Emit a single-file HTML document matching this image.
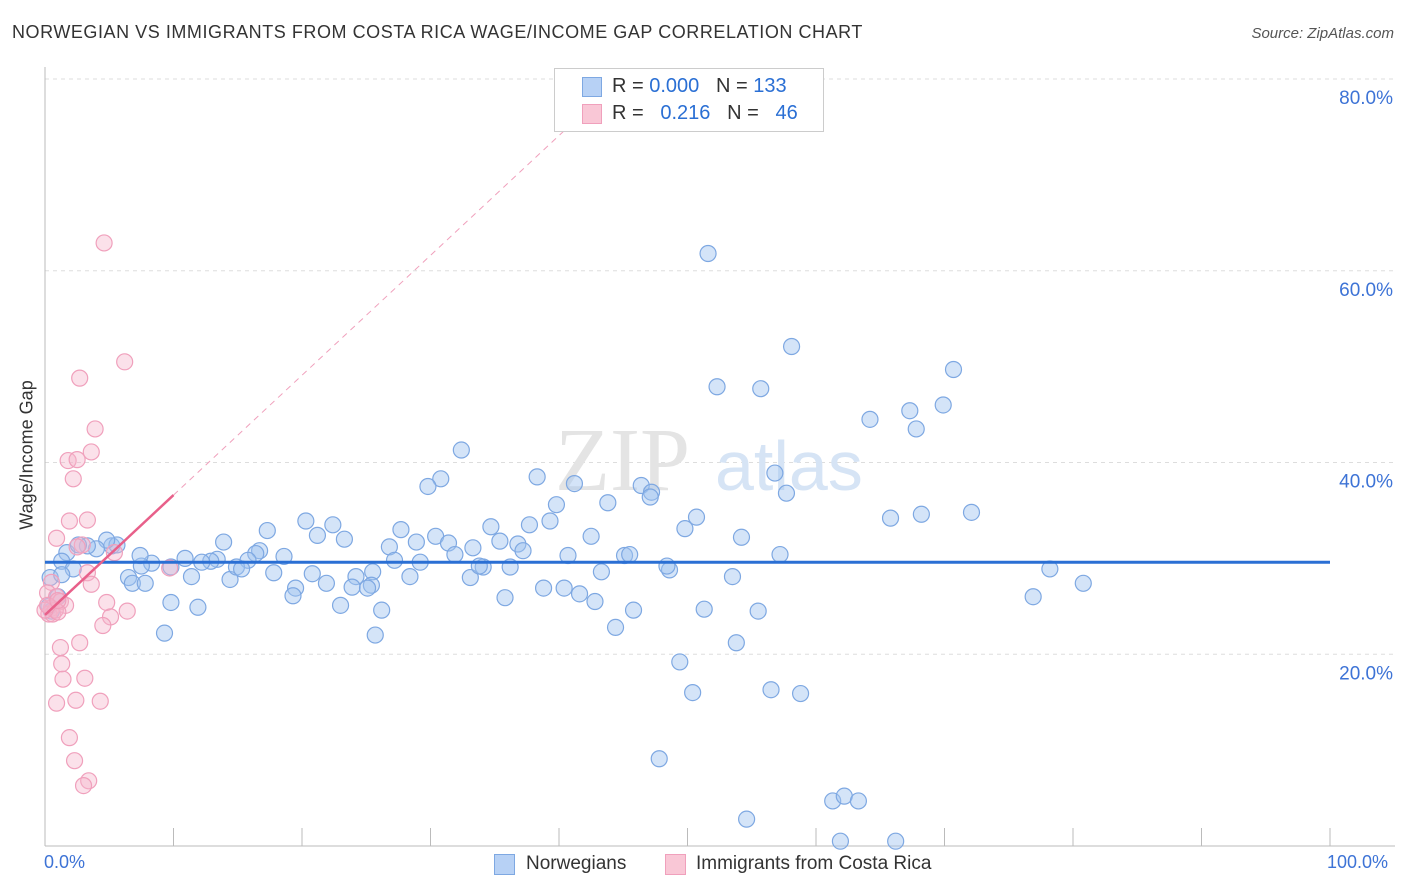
<!DOCTYPE html>
<html><head><meta charset="utf-8">
<style>
body{margin:0;background:#fff;font-family:"Liberation Sans",sans-serif;}
#wrap{position:relative;width:1406px;height:892px;overflow:hidden;}
.t{position:absolute;white-space:nowrap;}
</style></head>
<body>
<div id="wrap">
<div class="t" style="left:12px;top:22px;font-size:18px;letter-spacing:0.55px;color:#333;">NORWEGIAN VS IMMIGRANTS FROM COSTA RICA WAGE/INCOME GAP CORRELATION CHART</div>
<div class="t" style="right:12px;top:25px;font-size:15px;color:#555;font-style:italic;">Source: ZipAtlas.com</div>
<svg id="svg" width="1406" height="892" style="position:absolute;left:0;top:0"></svg>
</div>
<script>
const blueX=[51.6,58.1,70.7,52.3,55.7,69.9,67.3,64.2,67.8,32.4,30.8,29.8,38.3,41.2,56.8,57.7,46.4,47.2,47.1,43.8,39.8,65.8,68.2,72.1,50.7,49.8,39.3,37.7,34.7,20.3,22.4,17.3,13.9,21.2,23.3,27.7,30.4,26.8,28.9,31.4,33.3,35.4,36.8,37.2,42.5,54.2,40.7,45.1,45.5,57.2,31.9,27.2,29.2,16.7,16.4,18.6,15.8,13.4,12.9,12.2,10.9,8.3,7.5,7.4,5.2,5.6,4.8,4.0,3.3,1.7,1.3,2.2,2.6,0.4,1.3,6.5,6.8,7.8,9.8,11.4,14.4,14.9,15.3,17.8,20.8,19.5,19.3,21.9,24.2,25.5,25.4,23.9,25.1,28.4,33.1,34.1,33.8,36.2,38.8,43.3,48.6,48.4,53.5,40.4,41.6,42.8,35.8,26.2,23.0,9.8,11.9,45.8,44.4,51.3,55.5,25.7,9.3,53.8,49.4,50.4,56.5,58.8,47.8,61.3,62.2,63.3,54.6,61.9,66.2,76.9,80.8,78.2,0.5,1.0,0.3];
const blueY=[61.8,52.1,49.7,47.9,47.7,46.0,45.4,44.5,43.5,41.3,38.3,37.5,38.5,37.8,38.9,36.8,37.6,36.9,36.4,35.8,35.6,34.2,34.6,34.8,34.3,33.1,33.9,33.5,33.3,33.9,33.5,32.9,31.7,32.4,32.0,33.0,32.3,31.2,31.7,31.6,31.1,31.8,31.5,30.8,32.3,32.2,30.3,30.3,30.4,30.4,30.4,29.8,29.6,30.8,30.5,30.2,29.8,29.9,29.7,29.6,30.0,29.5,29.2,30.3,31.3,31.4,31.9,31.0,31.3,30.6,29.7,28.9,31.4,28.0,28.3,28.0,27.4,27.4,29.1,28.1,27.8,29.1,28.9,28.5,28.4,26.9,26.1,27.4,28.1,28.6,27.2,27.0,26.9,28.1,28.0,29.1,29.2,29.1,26.9,28.6,28.8,29.2,28.1,26.9,26.3,25.5,25.9,24.6,25.1,25.4,24.9,24.6,22.8,24.7,24.5,22.0,22.2,21.2,19.2,16.0,16.3,15.9,9.1,4.7,5.2,4.7,2.8,0.5,0.5,26.0,27.4,28.9,24.5,26.0,25.0];
const pinkX=[4.6,6.2,2.7,3.9,3.6,1.8,2.5,2.2,1.9,3.3,0.9,2.9,2.5,5.4,9.7,3.3,3.6,0.5,0.2,0.9,1.2,0.5,0.3,0.6,1.6,4.8,6.4,5.1,4.5,2.7,1.2,1.3,1.4,3.1,0.9,2.4,4.3,1.9,2.3,3.4,3.0,0.8,1.0,0.0,0.2,1.0];
const pinkY=[62.9,50.5,48.8,43.5,41.1,40.2,40.3,38.3,33.9,34.0,32.1,31.4,31.2,30.6,29.0,28.5,27.3,27.5,26.4,26.0,25.5,24.8,24.2,24.2,25.1,25.4,24.5,23.9,23.0,21.2,20.7,19.0,17.4,17.5,14.9,15.2,15.1,11.3,8.9,6.8,6.3,24.6,24.4,24.6,25.1,25.6];
const yTicks=[20,40,60,80];
const yTickLabels=["20.0%","40.0%","60.0%","80.0%"];
const blueFit=[29.6,29.6];
const pinkFit=[24.1,36.6];

const X0=45,X1=1330,Y0=846,Y80=79;
const sx=v=>X0+(X1-X0)*v/100;
const sy=v=>Y0-(Y0-Y80)*v/80;
const svg=document.getElementById('svg');
const NS='http://www.w3.org/2000/svg';
function mk(tag,attrs){const e=document.createElementNS(NS,tag);for(const k in attrs)e.setAttribute(k,attrs[k]);svg.appendChild(e);return e;}

yTicks.forEach((t,i)=>{
  const g=mk('line',{x1:X0,x2:1395,y1:sy(t),y2:sy(t),stroke:'#ddd','stroke-dasharray':'4,4'});
  
  
  const tx=mk('text',{x:1393,y:sy(t)+25,'text-anchor':'end','font-size':19,fill:'#3d73d6','font-family':'Liberation Sans, sans-serif'});
  tx.textContent=yTickLabels[i];
  
  
});
const ya=mk('line',{x1:X0,x2:X0,y1:67,y2:Y0,stroke:'#bbb'});


const xa=mk('line',{x1:X0,x2:1395,y1:Y0,y2:Y0,stroke:'#bbb'});


for(let i=1;i<=10;i++){
  const tk=mk('line',{x1:sx(i*10),x2:sx(i*10),y1:Y0,y2:Y0-18,stroke:'#bbb'});
  
  
}
const wm=mk('text',{x:555,y:490,'font-size':90,fill:'#e4e4e4','font-family':'Liberation Serif, serif'});
wm.textContent='ZIP';


const wm2=mk('text',{x:715,y:490,'font-size':70,fill:'#d6e4f5','font-family':'Liberation Sans, sans-serif'});
wm2.textContent='atlas';



blueX.forEach((x,i)=>{
  const c=mk('circle',{cx:sx(x),cy:sy(blueY[i]),r:8,fill:'rgba(160,196,240,0.45)',stroke:'#7ea8e2','stroke-width':1.2});
  
  
});
pinkX.forEach((x,i)=>{
  const c=mk('circle',{cx:sx(x),cy:sy(pinkY[i]),r:8,fill:'rgba(246,180,202,0.4)',stroke:'#f0a0bc','stroke-width':1.2});
  
  
});
const bl=mk('line',{x1:sx(0),x2:sx(100),y1:sy(blueFit[0]),y2:sy(blueFit[1]),stroke:'#2a6fd4','stroke-width':3});


const slope=(pinkFit[1]-pinkFit[0])/10;
const xe=(80-pinkFit[0])/slope;
const pd=mk('line',{x1:sx(10),x2:sx(xe),y1:sy(pinkFit[1]),y2:sy(pinkFit[0]+slope*xe),stroke:'#f0a0bc','stroke-width':1,'stroke-dasharray':'6,5'});


const pl=mk('line',{x1:sx(0),x2:sx(10),y1:sy(pinkFit[0]),y2:sy(pinkFit[1]),stroke:'#e8608a','stroke-width':2.5});


</script>
<div class="t" style="left:27px;top:455px;transform:translate(-50%,-50%) rotate(-90deg);font-size:18px;color:#333;">Wage/Income Gap</div>
<div class="t" style="left:44px;top:852px;font-size:18px;color:#3d73d6;">0.0%</div>
<div class="t" style="left:1327px;top:852px;font-size:18px;color:#3d73d6;">100.0%</div>
<div style="position:absolute;left:554px;top:68px;width:268px;height:62px;background:#fff;border:1px solid #ccc;font-size:20px;color:#333;">
  <div style="position:absolute;left:27px;top:8px;width:18px;height:18px;background:#b7d1f5;border:1px solid #7ea8e2;"></div>
  <div class="t" style="left:57px;top:6px;">R = <span style="color:#2a6fd4">0.000</span>&nbsp;&nbsp;&nbsp;N = <span style="color:#2a6fd4">133</span></div>
  <div style="position:absolute;left:27px;top:35px;width:18px;height:18px;background:#f9c7d6;border:1px solid #f0a0bc;"></div>
  <div class="t" style="left:57px;top:33px;">R = &nbsp;&nbsp;<span style="color:#2a6fd4">0.216</span>&nbsp;&nbsp;&nbsp;N = &nbsp;&nbsp;<span style="color:#2a6fd4">46</span></div>
</div>
<div style="position:absolute;left:494px;top:853px;font-size:19px;color:#333;">
  <div style="position:absolute;left:0;top:1px;width:19px;height:19px;background:#b7d1f5;border:1px solid #7ea8e2;"></div>
  <span style="position:absolute;left:32px;top:0;white-space:nowrap;">Norwegians</span>
</div>
<div style="position:absolute;left:665px;top:853px;font-size:19px;color:#333;">
  <div style="position:absolute;left:0;top:1px;width:19px;height:19px;background:#f9c7d6;border:1px solid #f0a0bc;"></div>
  <span style="position:absolute;left:31px;top:0;white-space:nowrap;">Immigrants from Costa Rica</span>
</div>
</body></html>
